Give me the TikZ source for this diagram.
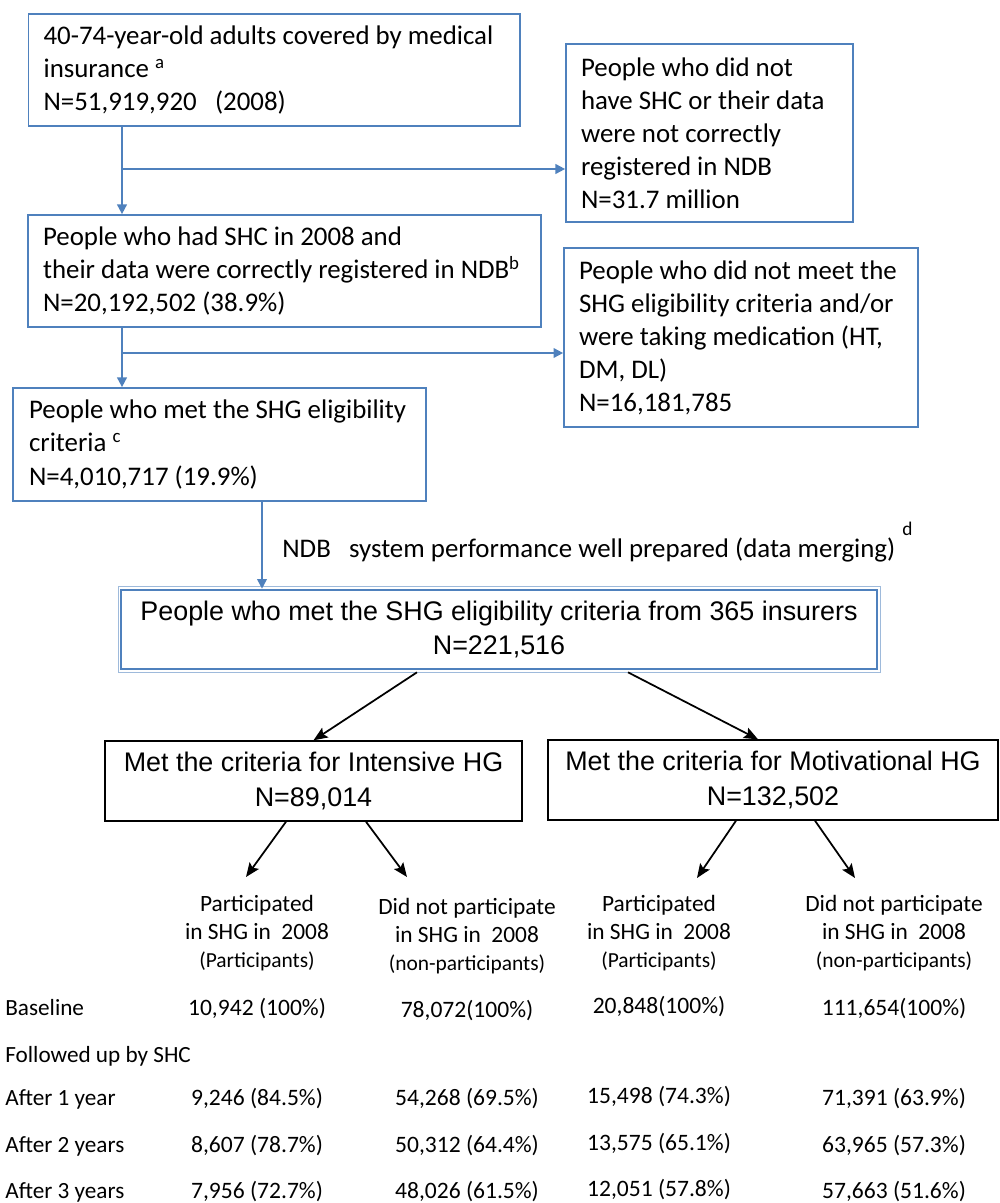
\documentclass[tikz,border=0pt]{standalone}
\usepackage{fontspec}
\setmainfont{Carlito}
\newfontfamily\arialfont{Liberation Sans}
\usetikzlibrary{arrows.meta,calc}
\definecolor{boxblue}{RGB}{79,129,189}

\begin{document}
\begin{tikzpicture}[x=0.02cm, y=-0.02cm,
    bluebox/.style={draw=boxblue, line width=1pt, rectangle, align=flush left, inner xsep=0.3cm, inner ysep=0pt,
        execute at begin node={\spaceskip=0pt\xspaceskip=0pt}, font=\fontsize{15.3}{18.8}\selectfont},
    blackbox/.style={draw=black, line width=0.8pt, rectangle, align=center, inner sep=0pt, font=\arialfont\fontsize{15.3}{19.4}\selectfont},
    bluearrow/.style={draw=boxblue, line width=1pt, -{Triangle[length=5.5pt,width=5.5pt]}},
    blackarrow/.style={draw=black, line width=1pt, -{Stealth[length=8pt,width=6.5pt,inset=1.5pt]}},
    colhead/.style={align=center, inner sep=0pt, anchor=base, font=\fontsize{13.3}{15.9}\selectfont},
    cell/.style={inner sep=0pt, anchor=base, font=\fontsize{13.4}{16}\selectfont},
    rowlabel/.style={inner sep=0pt, anchor=base west, font=\fontsize{13.2}{16}\selectfont}
]
    \useasboundingbox (0,0) rectangle (1000,1203);

    % Nodes
    \node [bluebox, minimum width=9.83cm, minimum height=2.24cm, text width=9.23cm] (insured) at (274.3,70)
        {40-74-year-old adults covered by medical\\insurance \textsuperscript{a}\\N=51,919,920\ \ \ (2008)};
    \node [bluebox, minimum width=10.26cm, minimum height=2.24cm, text width=9.66cm] (registered) at (284.5,271)
        {People who had SHC in 2008 and\\their data were correctly registered in NDB\textsuperscript{b}\\N=20,192,502 (38.9\%)};
    \node [bluebox, minimum width=8.26cm, minimum height=2.26cm, text width=7.62cm, inner xsep=0.32cm] (eligible) at (219.5,444.5)
        {People who met the SHG eligibility\\criteria \textsuperscript{c}\\N=4,010,717 (19.9\%)};
    \node [bluebox, minimum width=5.74cm, minimum height=3.56cm, text width=5.14cm] (noshc) at (709.5,133)
        {People who did not\\have SHC or their data\\were not correctly\\registered in NDB\\N=31.7 million};
    \node [bluebox, minimum width=7.08cm, minimum height=3.58cm, text width=6.48cm] (unmet) at (741,337.5)
        {People who did not meet the\\SHG eligibility criteria and/or\\were taking medication (HT,\\DM, DL)\\N=16,181,785};
    \node [blackbox, draw=boxblue, line width=1.5pt, minimum width=15.12cm, minimum height=1.58cm] (pool) at (499,629.5)
        {People who met the SHG eligibility criteria from 365 insurers\\N=221,516};
    \node [blackbox, minimum width=8.34cm, minimum height=1.6cm] (intensive) at (313.5,781)
        {Met the criteria for Intensive HG\\N=89,014};
    \node [blackbox, minimum width=9cm, minimum height=1.6cm] (motivational) at (773,780)
        {Met the criteria for Motivational HG\\N=132,502};
    \draw [boxblue!55, line width=0.5pt] ($(pool.north west)+(-1.8,-1.8)$) rectangle ($(pool.south east)+(1.8,1.8)$);

    % Arrows
    \coordinate (split1) at (122,169);
    \coordinate (split2) at (122,353);
    \coordinate (merge) at (262,540);
    \draw [bluearrow] (insured.south -| split1) -- (registered.north -| split1);
    \draw [bluearrow] (split1) -- (split1 -| noshc.west);
    \draw [bluearrow] (registered.south -| split2) -- (eligible.north -| split2);
    \draw [bluearrow] (split2) -- (split2 -| unmet.west);
    \draw [bluearrow] (eligible.south -| merge) -- (pool.north -| merge);
    \draw [blackarrow] ($(pool.south)+(-82,2)$) -- (intensive.north);
    \draw [blackarrow] ($(pool.south)+(129,2)$) -- ($(motivational.north)+(-15,0)$);

    \coordinate (ipartend) at (246,877);
    \coordinate (inonend) at (407,877);
    \coordinate (mpartend) at (697,878);
    \coordinate (mnonend) at (855,878);
    \draw [blackarrow] ($(intensive.south)+(-27.5,0)$) -- (ipartend);
    \draw [blackarrow] ($(intensive.south)+(52.5,0)$) -- (inonend);
    \draw [blackarrow] ($(motivational.south)+(-37,0)$) -- (mpartend);
    \draw [blackarrow] ($(motivational.south)+(42,0)$) -- (mnonend);

    % Labels
    \node [anchor=base west, inner sep=0pt, font=\fontsize{15.3}{18.8}\selectfont] (mergelabel) at (282,557)
        {NDB\ \ \ system performance well prepared (data merging)\hspace{4pt}\raisebox{12.5pt}{\fontsize{11}{11}\selectfont d}};

    \node [colhead] (ipart) at (257,967) {Participated\\in SHG in\ \ 2008\\{\fontsize{12.2}{15}\selectfont (Participants)}};
    \node [colhead] (inon) at (467,970) {Did not participate\\in SHG in\ \ 2008\\{\fontsize{12.2}{15}\selectfont (non-participants)}};
    \node [colhead] (mpart) at (659,967) {Participated\\in SHG in\ \ 2008\\{\fontsize{12.2}{15}\selectfont (Participants)}};
    \node [colhead] (mnon) at (894,967) {Did not participate\\in SHG in\ \ 2008\\{\fontsize{12.2}{15}\selectfont (non-participants)}};

    \node [rowlabel] (lbase) at (5,1015) {Baseline};
    \node [rowlabel] (lfollow) at (5,1062) {Followed up by SHC};
    \node [rowlabel] (lone) at (5,1105) {After 1 year};
    \node [rowlabel] (ltwo) at (5,1152) {After 2 years};
    \node [rowlabel] (lthree) at (5,1198) {After 3 years};

    \node [cell] (base1) at (257,1015) {10,942 (100\%)};
    \node [cell] (base2) at (467,1017) {78,072(100\%)};
    \node [cell] (base3) at (659,1013) {20,848(100\%)};
    \node [cell] (base4) at (894,1015) {111,654(100\%)};

    \node [cell] (one1) at (257,1105) {9,246 (84.5\%)};
    \node [cell] (one2) at (467,1105) {54,268 (69.5\%)};
    \node [cell] (one3) at (659,1103) {15,498 (74.3\%)};
    \node [cell] (one4) at (894,1105) {71,391 (63.9\%)};

    \node [cell] (two1) at (257,1152) {8,607 (78.7\%)};
    \node [cell] (two2) at (467,1152) {50,312 (64.4\%)};
    \node [cell] (two3) at (659,1150) {13,575 (65.1\%)};
    \node [cell] (two4) at (894,1152) {63,965 (57.3\%)};

    \node [cell] (three1) at (257,1198) {7,956 (72.7\%)};
    \node [cell] (three2) at (467,1198) {48,026 (61.5\%)};
    \node [cell] (three3) at (659,1196) {12,051 (57.8\%)};
    \node [cell] (three4) at (894,1198) {57,663 (51.6\%)};
\end{tikzpicture}
\end{document}
